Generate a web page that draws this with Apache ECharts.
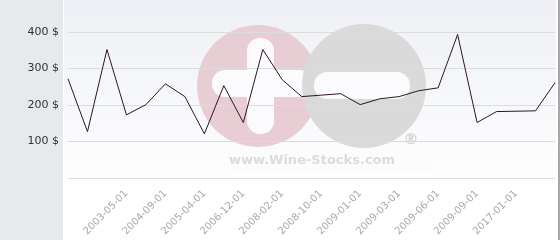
<!DOCTYPE html>
<html>
<head>
<meta charset="utf-8">
<script src="https://cdn.jsdelivr.net/npm/echarts@6/dist/echarts.min.js"></script>
<style>
html,body{margin:0;padding:0;background:#fff;}
#c{width:560px;height:240px;}
</style>
</head>
<body>
<div id="c"></div>
<script>
// Tick labels shown on the x axis (every second point, from the 4th point)
const labelDates = ['2003-05-01','2004-09-01','2005-04-01','2006-12-01','2008-02-01','2008-10-01','2009-01-01','2009-03-01','2009-06-01','2009-09-01','2017-01-01'];
// Prices ($) for each point
const prices = [272,127,352,173,201,258,223,121,253,152,352,269,223,227,231,201,217,223,239,247,393,152,182,183,184,261];
const yTicks = [100,200,300,400];

// Build category list: labelled points at indices 3,5,...,23; others unlabelled
const categories = prices.map((_, i) => {
  if (i >= 3 && i % 2 === 1) {
    const k = (i - 3) / 2;
    if (k < labelDates.length) return labelDates[k];
  }
  return '';
});

const chart = echarts.init(document.getElementById('c'), null, {renderer:'canvas'});
const option = {
  animation:false,
  backgroundColor:'#ffffff',
  graphic:[
    {type:'rect', z:-10, silent:true, shape:{x:0,y:0,width:63,height:240}, style:{fill:'#e6eaed'}},
    {type:'rect', z:-10, silent:true, shape:{x:64,y:0,width:492,height:240},
      style:{fill:new echarts.graphic.LinearGradient(0,0,0,1,[{offset:0,color:'#eef0f5'},{offset:0.8,color:'#ffffff'},{offset:1,color:'#ffffff'}])}},
    {type:'rect', z:-10, silent:true, shape:{x:558,y:0,width:2,height:240}, style:{fill:'#a8a8a8'}},
    // watermark
    {type:'circle', z:-9, silent:true, shape:{cx:258,cy:86,r:61}, style:{fill:'#e9cdd5'}},
    {type:'rect', z:-9, silent:true, shape:{x:247,y:38,width:27,height:96,r:13}, style:{fill:'#fbfbfd'}},
    {type:'rect', z:-9, silent:true, shape:{x:212,y:70,width:100,height:27,r:13}, style:{fill:'#fbfbfd'}},
    {type:'circle', z:-8, silent:true, shape:{cx:364,cy:86,r:62}, style:{fill:'#dadada'}},
    {type:'rect', z:-8, silent:true, shape:{x:314,y:72,width:96,height:27,r:13}, style:{fill:'#fbfbfd'}},
    {type:'rect', z:-8, silent:true, shape:{x:228,y:150,width:204,height:22}, style:{fill:'#fcfcfd'}},
    {type:'text', z:-7, silent:true, x:312, y:161, style:{text:'www.Wine-Stocks.com', fill:'#dcdcdc', font:'bold 13px "DejaVu Sans", sans-serif', align:'center', verticalAlign:'middle'}},
    {type:'text', z:-7, silent:true, x:411, y:140, style:{text:'®', fill:'#d2d2d2', font:'bold 15px "DejaVu Sans", sans-serif', align:'center', verticalAlign:'middle'}}
  ],
  grid:{left:68, right:5, top:32, bottom:62, containLabel:false},
  xAxis:{
    type:'category',
    data:categories,
    boundaryGap:false,
    axisLine:{show:false},
    axisTick:{show:false},
    axisLabel:{interval:0, rotate:45, margin:14, color:'#a8a8a8', fontSize:10, fontFamily:'DejaVu Sans'},
    splitLine:{show:false}
  },
  yAxis:{
    type:'value',
    min:0, max:400, interval:100,
    axisLine:{show:false},
    axisTick:{show:false},
    axisLabel:{margin:9, color:'#333', fontSize:11, fontFamily:'DejaVu Sans',
      formatter:(v)=> yTicks.includes(v) ? v + ' $' : ''},
    splitLine:{show:true, lineStyle:{color:'#dcdcdc', width:1}}
  },
  series:[{
    type:'line',
    data:prices,
    symbol:'none',
    lineStyle:{color:'#2e1524', width:1},
    z:5
  }]
};
chart.setOption(option);
</script>
</body>
</html>
